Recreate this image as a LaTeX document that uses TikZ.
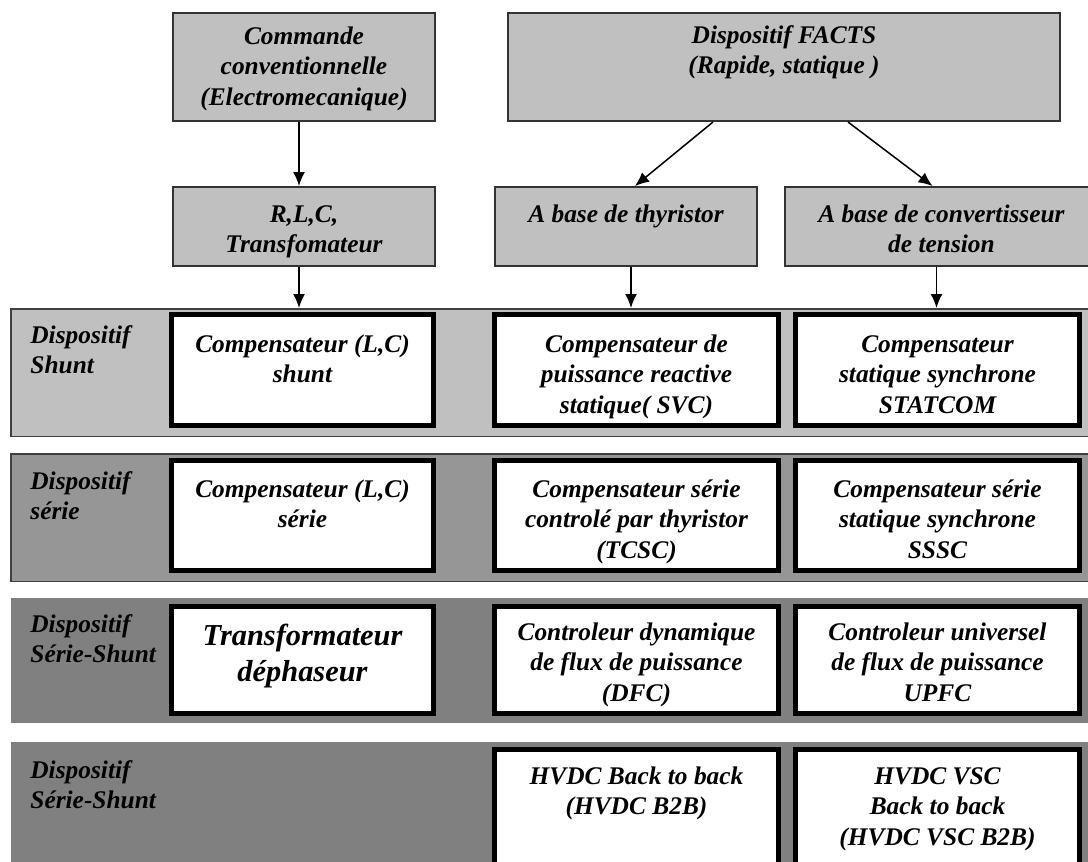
\documentclass[tikz,border=0pt]{standalone}
\usepackage{fontspec}
\setmainfont{Liberation Serif}
\usetikzlibrary{arrows.meta}

\definecolor{boxgray}{HTML}{C0C0C0}
\definecolor{shuntgray}{HTML}{C0C0C0}
\definecolor{seriegray}{HTML}{969696}
\definecolor{mixgray}{HTML}{808080}

\newcommand{\cellfont}{\fontsize{12.7}{15.3}\selectfont\bfseries\itshape}
\newcommand{\bigcellfont}{\fontsize{15.2}{18}\selectfont\bfseries\itshape}
\newcommand{\celltext}[3]{\vbox to #2{\hbox{\begin{tabular}[t]{@{}c@{}}\rule{0pt}{#1}#3\end{tabular}}\vss}}

\begin{document}
\begin{tikzpicture}[x=0.5pt, y=-0.5pt,
		gcell/.style={draw=black!80, fill=boxgray, line width=0.8pt, inner sep=0pt, font=\cellfont},
		wcell/.style={draw=black, fill=white, line width=2.5pt, inner sep=0pt, font=\cellfont},
		rowband/.style={inner sep=0pt, minimum width=544pt},
		rowlabel/.style={anchor=north west, inner sep=0pt, align=left, font=\cellfont},
		flow/.style={-{Latex[length=7pt,width=6pt]}, line width=0.75pt}]
		\useasboundingbox (0,0) rectangle (1088,862);
		\clip (0,0) rectangle (1088,862);

		\draw (555,372.5) node[rowband, draw=black!75, line width=0.75pt, fill=shuntgray, minimum height=63.75pt] (shunt) {};
		\draw (555,517.5) node[rowband, draw=black!75, line width=0.75pt, fill=seriegray, minimum height=63.75pt] (serie) {};
		\draw (555,660.5) node[rowband, fill=mixgray, minimum height=62.5pt] (mixA) {};
		\draw (555,811) node[rowband, fill=mixgray, minimum height=69pt] (mixB) {};

		\draw (30,325) node[rowlabel] (shuntlab) {Dispositif\\Shunt};
		\draw (30,471) node[rowlabel] (serielab) {Dispositif\\série};
		\draw (30,614) node[rowlabel] (mixAlab) {Dispositif\\Série-Shunt};
		\draw (30,760) node[rowlabel] (mixBlab) {Dispositif\\Série-Shunt};

		\draw (304,67) node[gcell, minimum width=131.2pt, minimum height=54.2pt] (cmd) {\celltext{15.6pt}{54.2pt}{Commande\\conventionnelle\\(Electromecanique)}};
		\draw (784,67) node[gcell, minimum width=276.2pt, minimum height=54.2pt] (facts) {\celltext{15.1pt}{54.2pt}{Dispositif FACTS\\(Rapide, statique )}};

		\draw (304,226.5) node[gcell, minimum width=131.2pt, minimum height=39.7pt] (rlc) {\celltext{17.6pt}{39.7pt}{R,L,C,\\Transfomateur}};
		\draw (626,226.5) node[gcell, minimum width=131.2pt, minimum height=39.7pt] (thy) {\celltext{17.6pt}{39.7pt}{A base de thyristor}};
		\draw (941.5,226.5) node[gcell, minimum width=156.7pt, minimum height=39.7pt] (conv) {\celltext{17.6pt}{39.7pt}{A base de convertisseur\\de tension}};

		\draw (302.5,370) node[wcell, minimum width=131pt, minimum height=55.5pt] (lcshunt) {\celltext{18.75pt}{55.5pt}{Compensateur (L,C)\\shunt}};
		\draw (636.5,370) node[wcell, minimum width=142pt, minimum height=55.5pt] (svc) {\celltext{18.75pt}{55.5pt}{Compensateur de\\puissance reactive\\statique( SVC)}};
		\draw (937.5,370) node[wcell, minimum width=142pt, minimum height=55.5pt] (statcom) {\celltext{18.75pt}{55.5pt}{Compensateur\\statique synchrone\\STATCOM}};

		\draw (302.5,515.5) node[wcell, minimum width=131pt, minimum height=55pt] (lcserie) {\celltext{18.25pt}{55pt}{Compensateur (L,C)\\série}};
		\draw (636.5,515.5) node[wcell, minimum width=142pt, minimum height=55pt] (tcsc) {\celltext{18.25pt}{55pt}{Compensateur série\\controlé par thyristor\\(TCSC)}};
		\draw (937.5,515.5) node[wcell, minimum width=142pt, minimum height=55pt] (sssc) {\celltext{18.25pt}{55pt}{Compensateur série\\statique synchrone\\SSSC}};

		\draw (302.5,660) node[wcell, minimum width=131pt, minimum height=53.5pt, font=\bigcellfont] (dephas) {\celltext{19.25pt}{53.5pt}{Transformateur\\déphaseur}};
		\draw (636.5,660) node[wcell, minimum width=142pt, minimum height=53.5pt] (dfc) {\celltext{16.75pt}{53.5pt}{Controleur dynamique\\de flux de puissance\\(DFC)}};
		\draw (937.5,660) node[wcell, minimum width=142pt, minimum height=53.5pt] (upfc) {\celltext{16.75pt}{53.5pt}{Controleur universel\\de flux de puissance\\UPFC}};

		\draw (636.5,813.5) node[wcell, minimum width=142pt, minimum height=64pt] (btb) {\celltext{17.25pt}{64pt}{HVDC Back to back\\(HVDC B2B)}};
		\draw (937.5,813.5) node[wcell, minimum width=142pt, minimum height=64pt] (vscbtb) {\celltext{17.25pt}{64pt}{HVDC VSC\\Back to back\\(HVDC VSC B2B)}};

		\draw[flow] ([xshift=-2.5pt]cmd.south) -- ([xshift=-2.5pt]rlc.north);
		\draw[flow] ([xshift=-35.5pt]facts.south) -- ([xshift=4.5pt]thy.north);
		\draw[flow] ([xshift=32pt]facts.south) -- ([xshift=-4.5pt]conv.north);
		\draw[flow] ([xshift=-2.5pt]rlc.south) -- ([xshift=-2.5pt]rlc.south |- shunt.north);
		\draw[flow] ([xshift=2.5pt]thy.south) -- ([xshift=2.5pt]thy.south |- shunt.north);
		\draw[flow] ([xshift=-2.5pt]conv.south) -- ([xshift=-2.5pt]conv.south |- shunt.north);
	\end{tikzpicture}
\end{document}
